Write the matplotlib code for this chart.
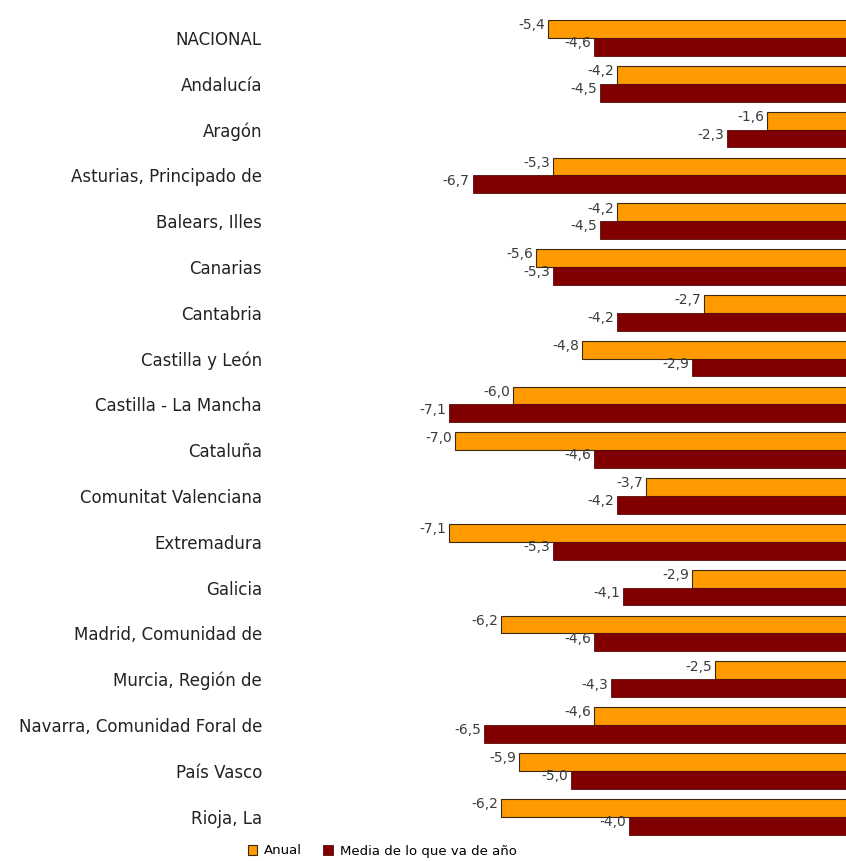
import matplotlib.pyplot as plt
import numpy as np

regiones = ['NACIONAL', 'Andalucía', 'Aragón', 'Asturias, Principado de',
            'Balears, Illes', 'Canarias', 'Cantabria', 'Castilla y León',
            'Castilla - La Mancha', 'Cataluña', 'Comunitat Valenciana',
            'Extremadura', 'Galicia', 'Madrid, Comunidad de', 'Murcia, Región de',
            'Navarra, Comunidad Foral de', 'País Vasco', 'Rioja, La']

anual = [-5.4, -4.2, -1.6, -5.3, -4.2, -5.6, -2.7, -4.8, -6.0,
         -7.0, -3.7, -7.1, -2.9, -6.2, -2.5, -4.6, -5.9, -6.2]
media = [-4.6, -4.5, -2.3, -6.7, -4.5, -5.3, -4.2, -2.9, -7.1,
         -4.6, -4.2, -5.3, -4.1, -4.6, -4.3, -6.5, -5.0, -4.0]

col_anual = '#FF9A00'
col_media = '#800000'

fig = plt.figure(figsize=(8.46, 8.61), dpi=100)
ax = fig.add_axes([280 / 846, 21 / 861, 566 / 846, 840 / 861])

y = np.arange(len(regiones))
h = 0.39
b1 = ax.barh(y - h / 2, anual, height=h, color=col_anual, edgecolor='#3a2a10', linewidth=0.8, label='Anual')
b2 = ax.barh(y + h / 2, media, height=h, color=col_media, edgecolor='#5a0a0a', linewidth=0.6,
             label='Media de lo que va de año')

# etiquetas de valor a la izquierda de cada barra
for bars, vals in ((b1, anual), (b2, media)):
    for bar, v in zip(bars, vals):
        ax.text(v - 0.05, bar.get_y() + bar.get_height() / 2 - 0.08, f'{v:.1f}'.replace('.', ','),
                ha='right', va='center', fontsize=10, color='#3c3c3c')

ax.set_xlim(-10.03, -0.24)
ax.set_ylim(17.51, -0.83)
ax.set_yticks(y)
ax.set_yticklabels(regiones, fontsize=12, color='#222222')
ax.tick_params(axis='y', length=0, pad=13)
ax.set_xticks([])
for s in ax.spines.values():
    s.set_visible(False)

fig.legend(handles=[b1, b2], loc='center', bbox_to_anchor=(382 / 846, 1 - 851 / 861),
           ncol=2, frameon=False, fontsize=9.5, handlelength=0.75, handleheight=0.75,
           handletextpad=0.5, columnspacing=1.6, borderaxespad=0)

fig.savefig('out.png', dpi=100)
